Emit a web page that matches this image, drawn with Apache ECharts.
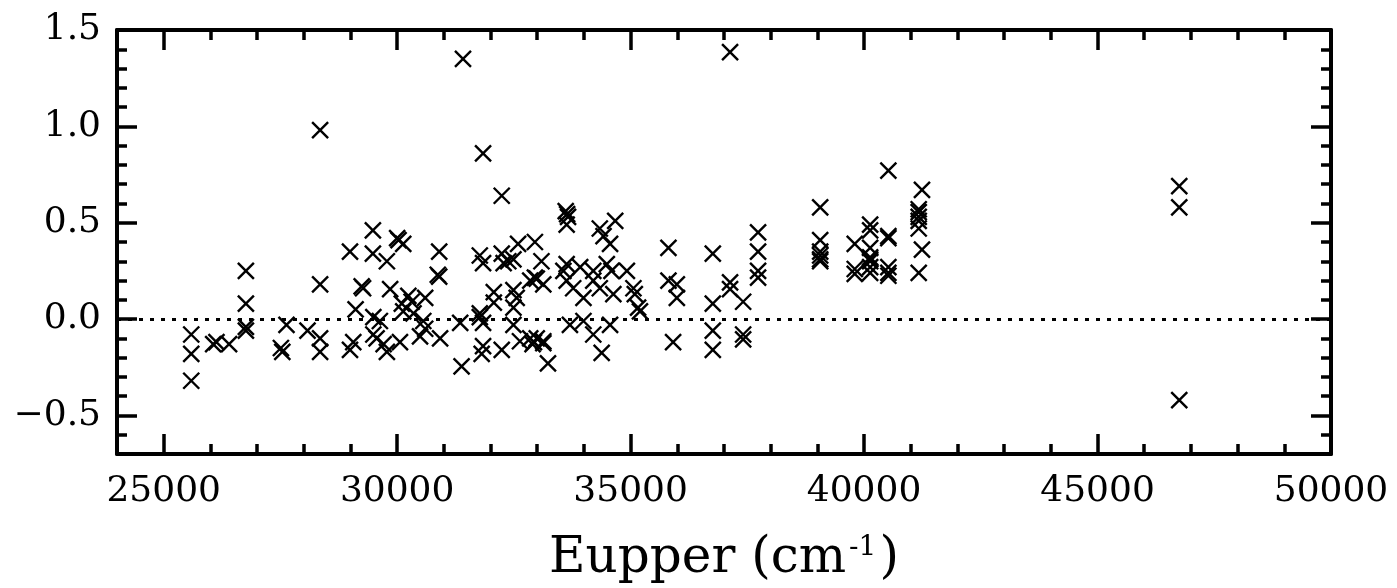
<!DOCTYPE html>
<html>
<head>
<meta charset="utf-8">
<script src="https://cdn.jsdelivr.net/npm/echarts@6/dist/echarts.min.js"></script>
<style>
  html, body { margin: 0; padding: 0; background: #fff; }
  #chart { width: 1397px; height: 588px; }
</style>
</head>
<body>
<div id="chart"></div>
<script>
// upper level energy (cm-1) and residual for every line
var eupper = [
  25590, 25590, 25590, 26060, 26130, 26400,
  26760, 26760, 26760, 26760, 27510, 27540, 27630, 28080,
  28350, 28350, 28350, 28350, 28990, 28990, 29060, 29110, 29240, 29270,
  29480, 29480, 29490, 29490, 29560, 29630, 29710, 29780, 29780, 29850,
  30000, 30030, 30060, 30100, 30130, 30130, 30240, 30310, 30350,
  30490, 30560, 30600, 30600, 30870, 30900, 30900, 30920,
  31350, 31380, 31410, 31770, 31770, 31770, 31810,
  31840, 31840, 31840, 31840, 32070, 32070, 32240, 32240, 32240, 32280,
  32380, 32490, 32490, 32490, 32490, 32560, 32590, 32630,
  32850, 32850, 32900, 32930, 32950, 32950, 32990, 32990,
  33090, 33130, 33130, 33130, 33230,
  33560, 33610, 33640, 33660, 33630, 33630, 33630, 33700, 33770,
  33920, 33990, 33990, 34200, 34200, 34200, 34340, 34340, 34380, 34420,
  34490, 34560, 34560, 34590, 34630, 34670, 34920,
  35060, 35090, 35160, 35200, 35810, 35810, 35910, 35990, 35990,
  36760, 36760, 36760, 36760, 37130, 37130, 37130, 37410, 37410, 37410,
  37730, 37730, 37730, 37730,
  39060, 39060, 39060, 39060, 39060, 39060, 39800, 39800, 39800,
  40130, 40130, 40130, 40130, 40130, 40130, 40130, 40130,
  40520, 40520, 40520, 40520, 40520, 40520,
  41170, 41170, 41170, 41170, 41170, 41170, 41240, 41240,
  46750, 46750, 46750
];
var residual = [
  -0.08, -0.18, -0.32, -0.13, -0.12, -0.13,
  0.25, 0.08, -0.04, -0.06, -0.15, -0.17, -0.03, -0.06,
  0.98, 0.18, -0.10, -0.17, 0.35, -0.16, -0.12, 0.05, 0.17, 0.16,
  0.46, 0.34, 0.01, -0.08, -0.10, -0.01, -0.13, 0.30, -0.17, 0.155,
  0.42, 0.41, -0.12, 0.08, 0.39, 0.04, 0.12, 0.09, 0.03,
  -0.09, -0.01, 0.11, -0.05, 0.23, 0.22, 0.35, -0.10,
  -0.02, -0.245, 1.35, 0.33, 0.03, 0.01, -0.18,
  0.29, -0.02, -0.14, 0.86, 0.14, 0.085, 0.64, 0.34, -0.16, 0.29,
  0.30, 0.31, 0.15, 0.06, -0.03, 0.11, 0.39, -0.115,
  0.20, -0.10, -0.13, -0.12, 0.40, 0.215, 0.21, -0.10,
  0.30, 0.18, -0.115, -0.125, -0.23,
  0.25, 0.56, 0.545, 0.53, 0.49, 0.285, 0.20, -0.03, 0.16,
  0.27, 0.11, -0.01, 0.25, 0.20, -0.08, 0.47, 0.16, -0.175, 0.43,
  0.285, 0.39, -0.03, 0.25, 0.13, 0.51, 0.25,
  0.16, 0.13, 0.06, 0.04, 0.37, 0.20, -0.12, 0.18, 0.11,
  0.34, 0.08, -0.06, -0.16, 1.385, 0.19, 0.155, 0.09, -0.08, -0.105,
  0.45, 0.35, 0.25, 0.215,
  0.58, 0.41, 0.35, 0.33, 0.31, 0.30, 0.39, 0.26, 0.235,
  0.49, 0.46, 0.37, 0.32, 0.31, 0.30, 0.27, 0.24,
  0.77, 0.43, 0.42, 0.27, 0.24, 0.225,
  0.57, 0.555, 0.53, 0.51, 0.47, 0.24, 0.67, 0.36,
  0.69, 0.58, -0.42
];
var xRange = [24000, 50000];
var yRange = [-0.7, 1.5];

var points = eupper.map(function (x, i) {
  return [x, residual[i]];
});

var font = "DejaVu Serif";
var chart = echarts.init(document.getElementById("chart"));

function frameAxis(pos, range, showLabel) {
  return {
    type: "value",
    position: pos,
    min: range[0],
    max: range[1],
    splitNumber: 5,
    axisLine: { show: true, onZero: false, lineStyle: { color: "#000", width: 4 } },
    axisTick: { show: true, inside: true, length: 20, lineStyle: { color: "#000", width: 3.5 } },
    minorTick: { show: true, splitNumber: 5, length: 10, lineStyle: { color: "#000", width: 3.5 } },
    splitLine: { show: false },
    axisLabel: {
      show: showLabel,
      showMinLabel: false,
      color: "#000",
      fontFamily: font,
      fontSize: 36,
      formatter: function (v) {
        var s = Math.abs(v) < 10 ? v.toFixed(1) : String(v);
        return s.replace("-", "\u2212");
      }
    }
  };
}

var xBottom = frameAxis("bottom", xRange, true);
xBottom.axisLabel.margin = 20;
xBottom.name = "Eupper (cm{sup|-1})";
xBottom.nameLocation = "middle";
xBottom.nameGap = 80;
xBottom.nameTextStyle = {
  color: "#000",
  fontFamily: font,
  fontSize: 50,
  rich: {
    sup: { fontFamily: font, fontSize: 28, verticalAlign: "top", color: "#000", padding: [0, 3, 22, 3] }
  }
};
var xTop = frameAxis("top", xRange, false);
var yLeft = frameAxis("left", yRange, true);
yLeft.axisLabel.margin = 16;
var yRight = frameAxis("right", yRange, false);

var option = {
  animation: false,
  grid: { left: 117, right: 66, top: 30, bottom: 134, containLabel: false, outerBoundsMode: "none" },
  xAxis: [xBottom, xTop],
  yAxis: [yLeft, yRight],
  series: [
    {
      type: "scatter",
      data: points,
      symbol: "path://M0,0L10,10M10,0L0,10",
      symbolSize: 16,
      itemStyle: { color: "#000", borderColor: "#000", borderWidth: 2.4, opacity: 1 },
      markLine: {
        silent: true,
        symbol: ["none", "none"],
        label: { show: false },
        lineStyle: { color: "#000", type: [4, 7], width: 3, opacity: 1 },
        data: [{ yAxis: 0 }]
      }
    }
  ]
};
chart.setOption(option);
</script>
</body>
</html>
